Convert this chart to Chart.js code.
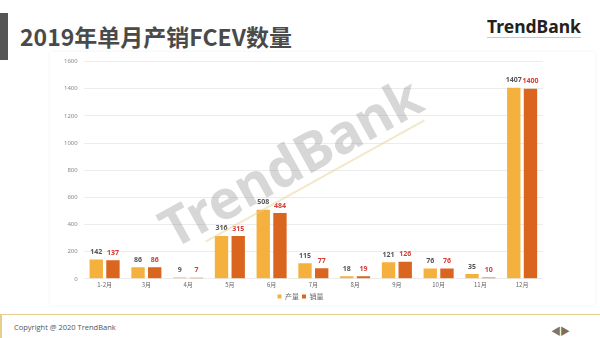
<!DOCTYPE html>
<html>
<head>
<meta charset="utf-8">
<script src="https://cdn.jsdelivr.net/npm/chart.js@4.4.1/dist/chart.umd.min.js"></script>
<style>
  html, body { margin: 0; padding: 0; background: #fff; }
  body { width: 600px; height: 338px; position: relative; overflow: hidden; font-family: "Noto Sans CJK SC", "Noto Sans", sans-serif; }
  #sideBar { position: absolute; left: 0; top: 13px; width: 8px; height: 47px; background: #555; }
  #title { position: absolute; left: 20px; top: 21px; font-size: 23px; font-weight: bold; color: #4a4a4a; line-height: 30px; }
  #logo { position: absolute; left: 487px; top: 16px; font-family: "Noto Sans", sans-serif; font-size: 17.5px; font-weight: bold; color: #222; line-height: 20px; border-bottom: 1.5px solid #dccb8a; padding-bottom: 1px; }
  #card { position: absolute; left: 50px; top: 52px; width: 545px; height: 253px; background: #fff; box-shadow: 0 0 4px rgba(0,0,0,0.06); }
  #chart { position: absolute; left: 50px; top: 52px; }
  #footerLine { position: absolute; left: 0; top: 314px; width: 600px; height: 1px; background: #e6cf8e; }
  #footerLeft { position: absolute; left: 0; top: 314px; width: 2px; height: 24px; background: #e6cf8e; }
  #copy { position: absolute; left: 14px; top: 322px; font-size: 7.5px; color: #555; font-family: "Open Sans", sans-serif; }
  #arrows { position: absolute; left: 551px; top: 323px; font-size: 10px; color: #777; letter-spacing: -1px; }
  #arrows span.r { color: #8a6a4a; }
  #wm { position: absolute; left: 145px; top: 124px; font-family: "Noto Sans", sans-serif; font-size: 54px; font-weight: bold; color: rgba(150,150,150,0.38); transform: rotate(-29deg); transform-origin: center; white-space: nowrap; pointer-events: none; }
  #wmLine { position: absolute; left: 190px; top: 180px; width: 250px; height: 2px; background: rgba(230,210,150,0.5); transform: rotate(-29deg); transform-origin: center; }
</style>
</head>
<body>
<div id="sideBar"></div>
<div id="title">2019年单月产销FCEV数量</div>
<div id="logo">TrendBank</div>
<div id="card"></div>
<canvas id="chart"></canvas>
<div id="wm">TrendBank</div>
<div id="wmLine"></div>
<div id="footerLine"></div>
<div id="footerLeft"></div>
<div id="copy">Copyright @ 2020 TrendBank</div>
<div id="arrows">◀<span class="r">▶</span></div>
<script>
// chart data
const months = ['1-2月', '3月', '4月', '5月', '6月', '7月', '8月', '9月', '10月', '11月', '12月'];
const production = [142, 86, 9, 316, 508, 115, 18, 121, 76, 35, 1407];
const sales = [137, 86, 7, 315, 484, 77, 19, 126, 76, 10, 1400];
const yTicks = [0, 200, 400, 600, 800, 1000, 1200, 1400, 1600];

// value labels above bars
const valueLabels = {
    id: 'valueLabels',
    afterDatasetsDraw(chart) {
        const c = chart.ctx;
        c.save();
        c.textAlign = 'center';
        c.textBaseline = 'bottom';
        c.font = 'bold 7px "Noto Sans", sans-serif';
        chart.data.datasets.forEach((ds, i) => {
            c.fillStyle = i === 0 ? '#555555' : '#d63b34';
            chart.getDatasetMeta(i).data.forEach((bar, j) => {
                c.fillText(ds.data[j], bar.x, bar.y - 4);
            });
        });
        c.restore();
    }
};

const canvas = document.getElementById('chart');
canvas.width = 545;
canvas.height = 258;

new Chart(canvas.getContext('2d'), {
    type: 'bar',
    data: {
        labels: months,
        datasets: [
            { label: '产量', data: production, backgroundColor: '#f5b13d' },
            { label: '销量', data: sales, backgroundColor: '#d9651f' }
        ]
    },
    options: {
        responsive: false,
        animation: false,
        devicePixelRatio: 1,
        categoryPercentage: 0.8,
        barPercentage: 0.8,
        layout: { padding: { left: 8, right: 52, top: 4, bottom: 0 } },
        plugins: {
            legend: {
                position: 'bottom',
                labels: {
                    boxWidth: 4, boxHeight: 4, padding: 3,
                    color: '#666',
                    font: { size: 7, family: '"Noto Sans CJK SC", sans-serif' }
                }
            },
            tooltip: { enabled: false }
        },
        scales: {
            x: {
                grid: { display: false, drawTicks: false },
                border: { display: false },
                ticks: { color: '#666', font: { size: 6, family: '"Noto Sans CJK SC", sans-serif' }, padding: 2 }
            },
            y: {
                min: 0, max: 1600,
                afterBuildTicks: axis => { axis.ticks = yTicks.map(v => ({ value: v })); },
                grid: { color: '#ececec', drawTicks: false },
                border: { display: false },
                ticks: { color: '#888', font: { size: 6, family: '"Noto Sans", sans-serif' }, padding: 6, callback: v => String(v) }
            }
        }
    },
    plugins: [valueLabels]
});
</script>
</body>
</html>
